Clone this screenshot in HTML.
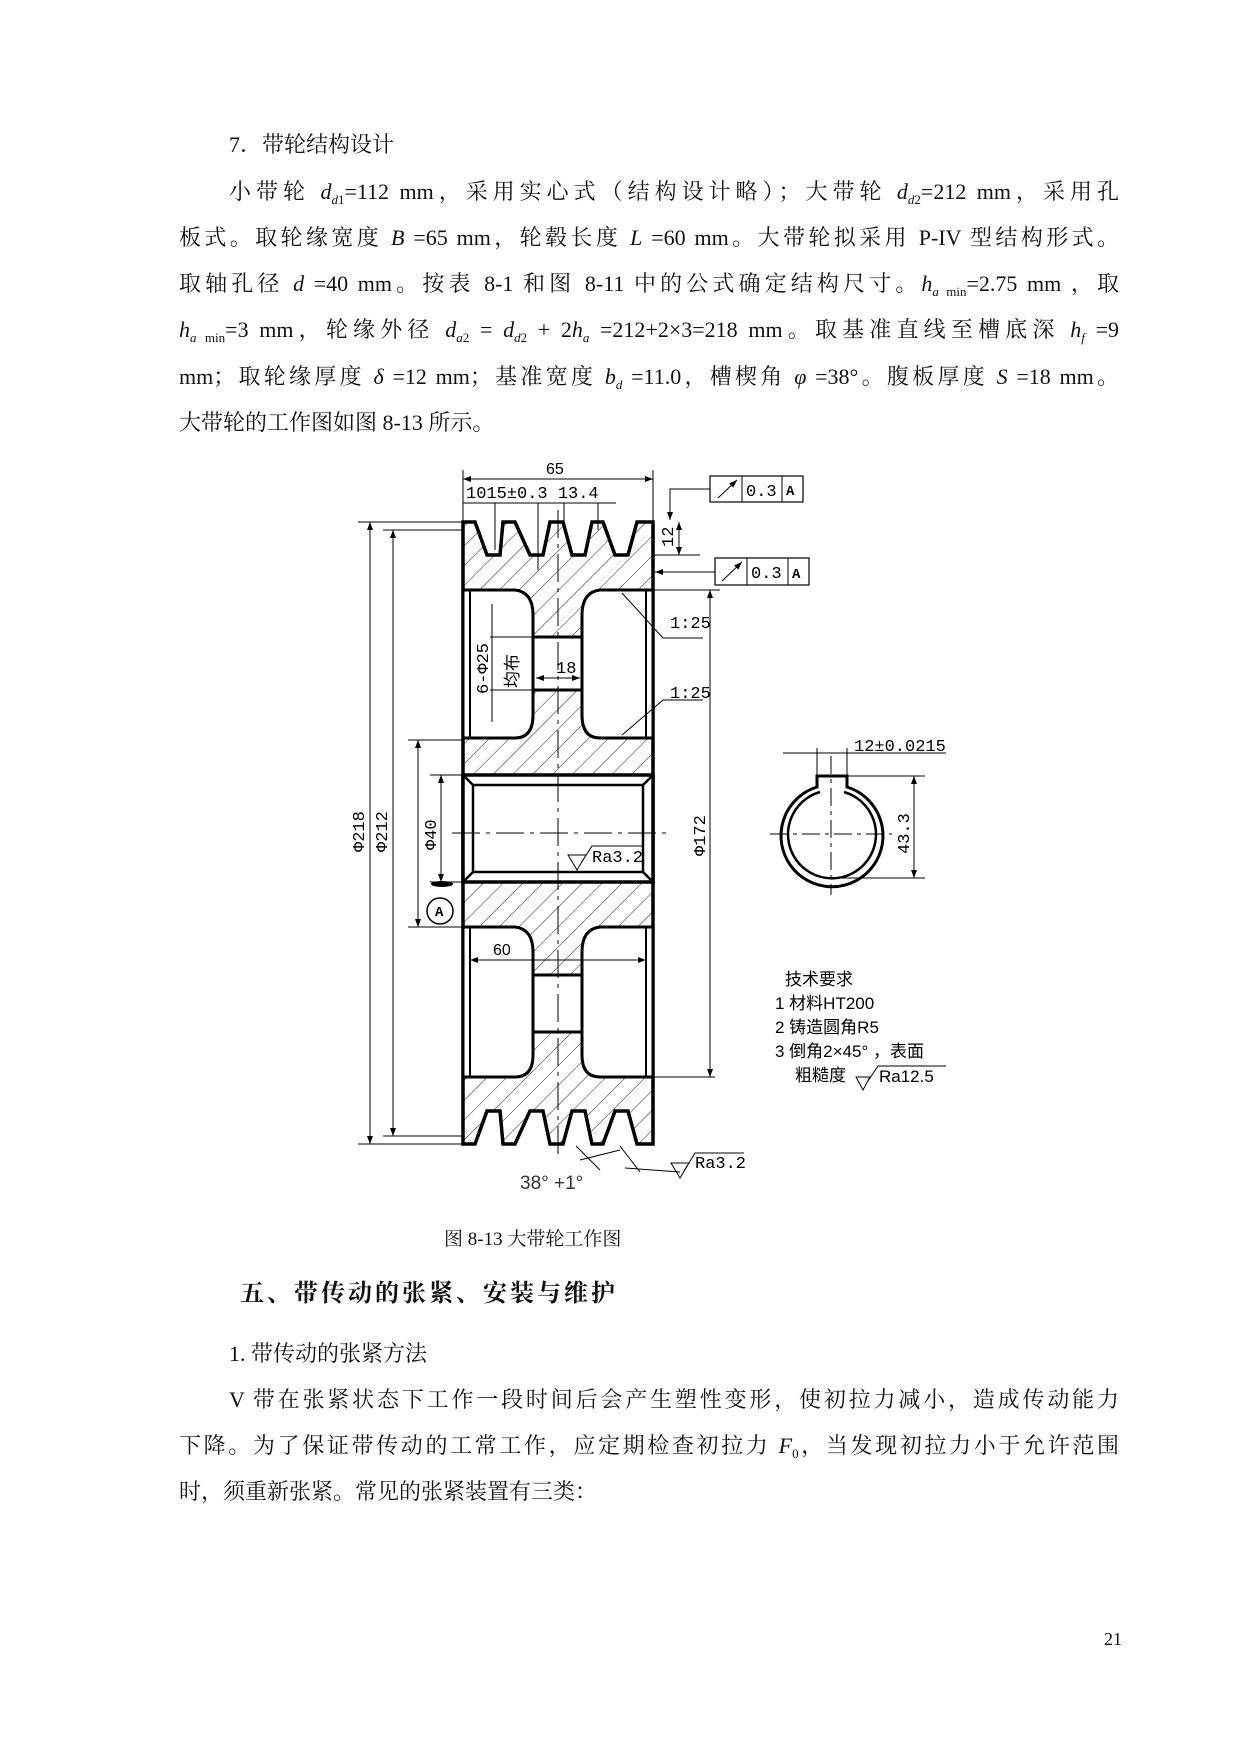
<!DOCTYPE html>
<html><head><meta charset="utf-8"><style>
body{margin:0;background:#fff;}
#p{position:relative;width:1242px;height:1752px;overflow:hidden;background:#fff;font-family:"Liberation Serif","Noto Serif CJK SC",serif;color:#111;}
.l{position:absolute;left:179px;width:940px;font-size:22px;line-height:26px;white-space:nowrap;text-align:justify;text-align-last:justify;}
.t{position:absolute;font-size:22px;line-height:26px;white-space:nowrap;}
i{font-style:italic;}
sub{font-size:13px;vertical-align:-5px;line-height:0;}
svg{position:absolute;left:0;top:0;}
</style></head><body><div id="p">
<div class="t" style="left:229px;top:132px;">7．带轮结构设计</div>
<div class="l" style="left:229px;width:890px;top:179px;">小带轮 <i>d</i><sub><i>d</i>1</sub>=112 mm，采用实心式（结构设计略）；大带轮 <i>d</i><sub><i>d</i>2</sub>=212 mm，采用孔</div>
<div class="l" style="top:225px;">板式。取轮缘宽度 <i>B</i> =65 mm，轮毂长度 <i>L</i> =60 mm。大带轮拟采用 P-IV 型结构形式。</div>
<div class="l" style="top:271px;">取轴孔径 <i>d</i> =40 mm。按表 8-1 和图 8-11 中的公式确定结构尺寸。<i>h</i><sub><i>a</i> min</sub>=2.75 mm ，取</div>
<div class="l" style="top:317px;"><i>h</i><sub><i>a</i> min</sub>=3 mm，轮缘外径 <i>d</i><sub><i>a</i>2</sub> = <i>d</i><sub><i>d</i>2</sub> + 2<i>h</i><sub><i>a</i></sub> =212+2×3=218 mm。取基准直线至槽底深 <i>h</i><sub><i>f</i></sub> =9</div>
<div class="l" style="top:364px;">mm；取轮缘厚度 <i>δ</i> =12 mm；基准宽度 <i>b</i><sub><i>d</i></sub> =11.0，槽楔角 <i>φ</i> =38°。腹板厚度 <i>S</i> =18 mm。</div>
<div class="t" style="left:179px;top:410px;">大带轮的工作图如图 8-13 所示。</div>

<svg width="1242" height="1752" viewBox="0 0 1242 1752" font-family="Liberation Mono, Noto Sans CJK SC, monospace">
<defs>
<pattern id="h" width="14" height="14" patternUnits="userSpaceOnUse" patternTransform="rotate(45)">
<line x1="0" y1="0" x2="0" y2="14" stroke="#222" stroke-width="1"/></pattern>
<marker id="a" markerWidth="8" markerHeight="6" refX="8" refY="3" orient="auto-start-reverse"><path d="M0,0 L8,3 L0,6z" fill="#000"/></marker>
</defs>
<path d="M463,522 L475,522 L487,555 L500,555 L503,522 L515,522 L530,555 L543,555 L550,522 L563,522 L572,555 L585,555 L592,522 L603,522 L615,555 L628,555 L637,522 L653,522 L653,1144 L637,1144 L628,1111 L615,1111 L603,1144 L592,1144 L585,1111 L572,1111 L563,1144 L550,1144 L543,1111 L530,1111 L515,1144 L503,1144 L500,1111 L487,1111 L475,1144 L463,1144 Z" fill="url(#h)" stroke="#000" stroke-width="3.5"/>
<path d="M463,590 L515,590 Q533,592 533,615 L533,715 Q533,738 515,738 L463,738 Z" fill="#fff" stroke="#000" stroke-width="3"/>
<path d="M653,590 L600,590 Q582,592 582,615 L582,715 Q582,738 600,738 L653,738 Z" fill="#fff" stroke="#000" stroke-width="3"/>
<rect x="533" y="637" width="49" height="53" fill="#fff" stroke="#000" stroke-width="3"/>
<path d="M463,927 L515,927 Q533,929 533,952 L533,1055 Q533,1077 515,1077 L463,1077 Z" fill="#fff" stroke="#000" stroke-width="3"/>
<path d="M653,927 L600,927 Q582,929 582,952 L582,1055 Q582,1077 600,1077 L653,1077 Z" fill="#fff" stroke="#000" stroke-width="3"/>
<rect x="533" y="975" width="49" height="57" fill="#fff" stroke="#000" stroke-width="3"/>
<rect x="463" y="775" width="190" height="107" fill="#fff" stroke="#000" stroke-width="3.5"/>
<path d="M473,785 L643,785 M473,872 L643,872 M473,785 L473,872 M643,785 L643,872 M463,775 L473,785 M653,775 L643,785 M463,882 L473,872 M653,882 L643,872" stroke="#000" stroke-width="2.5" fill="none"/>
<path d="M470,590 L470,738 M646,590 L646,738 M470,927 L470,1077 M646,927 L646,1077" stroke="#000" stroke-width="2"/>
<path d="M558,510 L558,1160 M452,833 L668,833" stroke="#000" stroke-width="1" stroke-dasharray="28,6,4,6" fill="none"/>
<path d="M463,470 L463,522 M653,470 L653,522" stroke="#000" stroke-width="1"/>
<line x1="463" y1="479" x2="653" y2="479" stroke="#000" marker-start="url(#a)" marker-end="url(#a)"/>
<text x="546" y="474" font-size="16" font-family="Liberation Sans, sans-serif">65</text>
<line x1="463" y1="503" x2="616" y2="503" stroke="#000"/>
<path d="M495,503 L495,550 M538,503 L538,570 M564,503 L564,530 M598,503 L598,530" stroke="#000" stroke-width="1"/>
<text x="466" y="498" font-size="17">1015±0.3 13.4</text>
<rect x="710" y="476" width="93" height="26" fill="#fff" stroke="#000" stroke-width="1.2"/>
<path d="M742,476 L742,502 M782,476 L782,502" stroke="#000"/>
<line x1="718" y1="498" x2="737" y2="480" stroke="#000" marker-end="url(#a)"/>
<text x="746" y="496" font-size="17">0.3</text><text x="786" y="495" font-size="14" font-weight="bold">A</text>
<path d="M710,489 L670,489 L670,520" stroke="#000" fill="none" marker-end="url(#a)"/>
<rect x="715" y="558" width="94" height="27" fill="#fff" stroke="#000" stroke-width="1.2"/>
<path d="M747,558 L747,585 M788,558 L788,585" stroke="#000"/>
<line x1="722" y1="581" x2="742" y2="562" stroke="#000" marker-end="url(#a)"/>
<text x="751" y="578" font-size="17">0.3</text><text x="792" y="578" font-size="14" font-weight="bold">A</text>
<line x1="715" y1="572" x2="655" y2="572" stroke="#000" marker-end="url(#a)"/>
<path d="M653,555 L700,555" stroke="#000"/>
<line x1="679" y1="522" x2="679" y2="555" stroke="#000" marker-start="url(#a)" marker-end="url(#a)"/>
<text transform="translate(673,547) rotate(-90)" font-size="17">12</text>
<text x="670" y="628" font-size="17">1:25</text>
<path d="M703,638 L663,638 L622,593" stroke="#000" fill="none"/>
<text x="670" y="698" font-size="17">1:25</text>
<path d="M703,700 L663,700 L622,735" stroke="#000" fill="none"/>
<path d="M653,590 L720,590 M653,1077 L715,1077" stroke="#000"/>
<line x1="710" y1="590" x2="710" y2="1077" stroke="#000" marker-start="url(#a)" marker-end="url(#a)"/>
<text transform="translate(705,856) rotate(-90)" font-size="17">Φ172</text>
<path d="M358,522 L463,522 M358,1144 L463,1144 M383,530 L463,530 M383,1136 L463,1136 M408,740 L463,740 M408,927 L463,927 M430,775 L463,775 M430,882 L463,882" stroke="#000"/>
<line x1="370" y1="522" x2="370" y2="1144" stroke="#000" marker-start="url(#a)" marker-end="url(#a)"/>
<line x1="393" y1="530" x2="393" y2="1136" stroke="#000" marker-start="url(#a)" marker-end="url(#a)"/>
<line x1="418" y1="740" x2="418" y2="927" stroke="#000" marker-start="url(#a)" marker-end="url(#a)"/>
<line x1="441" y1="775" x2="441" y2="882" stroke="#000" marker-start="url(#a)" marker-end="url(#a)"/>
<text transform="translate(364,852) rotate(-90)" font-size="17">Φ218</text>
<text transform="translate(387,852) rotate(-90)" font-size="17">Φ212</text>
<text transform="translate(436,850) rotate(-90)" font-size="17">Φ40</text>
<ellipse cx="442" cy="884" rx="11" ry="3" fill="#000"/>
<circle cx="440" cy="911" r="13" fill="#fff" stroke="#000" stroke-width="1.5"/>
<text x="435" y="916" font-size="14" font-weight="bold">A</text>
<path d="M492,604 L492,722 M490,637 L533,637 M490,690 L533,690" stroke="#000"/>
<text transform="translate(488,694) rotate(-90)" font-size="17">6-Φ25</text>
<text transform="translate(518,688) rotate(-90)" font-size="17" font-family="Noto Sans CJK SC, sans-serif">均布</text>
<line x1="536" y1="678" x2="580" y2="678" stroke="#000" marker-start="url(#a)" marker-end="url(#a)"/>
<text x="556" y="673" font-size="17">18</text>
<line x1="470" y1="960" x2="646" y2="960" stroke="#000" marker-start="url(#a)" marker-end="url(#a)"/>
<text x="493" y="955" font-size="16" font-family="Liberation Sans, sans-serif">60</text>
<path d="M568,855 L586,855 L577,870 Z M581,863 L592,846 L642,846" stroke="#000" fill="none"/>
<text x="592" y="862" font-size="17">Ra3.2</text>
<path d="M671,1163 L689,1163 L680,1178 Z M684,1171 L695,1153 L744,1153" stroke="#000" fill="none"/>
<text x="695" y="1168" font-size="17">Ra3.2</text>
<path d="M576,1146 L600,1170 M620,1146 L640,1172 M625,1168 L680,1172 M580,1160 L620,1150" stroke="#000" fill="none"/>
<text x="520" y="1189" font-size="19" font-family="Liberation Sans, sans-serif" fill="#333">38° +1°</text>
<path d="M817,776 L847,776 L847,787 A51,51 0 1 1 817,787 Z" fill="none" stroke="#000" stroke-width="3"/>
<path d="M820,792 A44,44 0 1 0 844,792" fill="none" stroke="#000" stroke-width="2.5"/>
<path d="M831,756 L831,895 M770,834 L892,834" stroke="#000" stroke-dasharray="18,5,4,5"/>
<path d="M817,748 L817,776 M847,748 L847,776 M783,753 L946,753" stroke="#000"/>
<text x="854" y="751" font-size="17">12±0.0215</text>
<path d="M847,776 L925,776 M831,878 L925,878" stroke="#000"/>
<line x1="914" y1="776" x2="914" y2="878" stroke="#000" marker-start="url(#a)" marker-end="url(#a)"/>
<text transform="translate(909,854) rotate(-90)" font-size="17">43.3</text>
<g font-size="17" font-family="Liberation Sans, Noto Sans CJK SC, sans-serif">
<text x="785" y="985">技术要求</text>
<text x="775" y="1009">1  材料HT200</text>
<text x="775" y="1033">2  铸造圆角R5</text>
<text x="775" y="1057">3  倒角2×45° ，表面</text>
<text x="795" y="1081">粗糙度</text>
<path d="M856,1077 L870,1077 L863,1090 Z M866,1084 L878,1066 L946,1066" stroke="#000" fill="none"/>
<text x="879" y="1082">Ra12.5</text>
</g>
</svg>

<div class="t" style="left:444px;top:1227px;font-size:19px;">图 8-13  大带轮工作图</div>
<div class="t" style="left:240px;top:1281px;font-size:24px;letter-spacing:3px;font-weight:bold;">五、带传动的张紧、安装与维护</div>
<div class="t" style="left:229px;top:1341px;">1. 带传动的张紧方法</div>
<div class="l" style="left:229px;width:890px;top:1387px;">V 带在张紧状态下工作一段时间后会产生塑性变形，使初拉力减小，造成传动能力</div>
<div class="l" style="top:1433px;">下降。为了保证带传动的工常工作，应定期检查初拉力 <i>F</i><sub>0</sub>，当发现初拉力小于允许范围</div>
<div class="t" style="left:179px;top:1479px;">时，须重新张紧。常见的张紧装置有三类：</div>
<div class="t" style="left:1104px;top:1626px;font-size:18px;">21</div>
</div></body></html>
